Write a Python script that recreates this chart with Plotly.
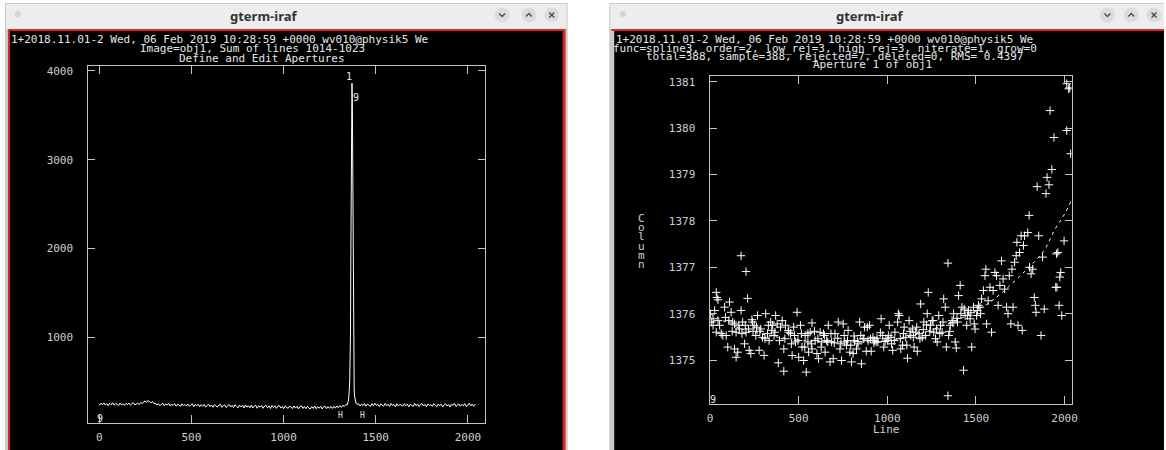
import numpy as np
import plotly.graph_objects as go

W, H = 1166, 450

# ---------------- Left window: summed spatial profile (apedit) ----------------
prof_pix_a = np.arange(1, 1338, 8)
prof_val_a = [
    232, 258, 241, 262, 236, 254, 229, 257, 240, 263,
    235, 255, 244, 230, 259, 238, 252, 233, 256, 241,
    260, 236, 251, 263, 239, 247, 258, 242, 265, 255,
    272, 284, 266, 289, 271, 262, 277, 252, 258, 236,
    251, 229, 246, 258, 228, 249, 237, 255, 226, 247,
    233, 252, 224, 245, 238, 221, 250, 231, 243, 226,
    248, 222, 239, 251, 219, 243, 228, 246, 217, 240,
    224, 245, 213, 236, 247, 218, 238, 211, 241, 226,
    215, 237, 244, 212, 233, 239, 208, 231, 242, 214,
    234, 209, 240, 221, 205, 236, 216, 232, 203, 238,
    212, 229, 206, 237, 204, 226, 234, 201, 229, 213,
    232, 200, 225, 234, 205, 228, 198, 233, 210, 227,
    199, 224, 231, 203, 222, 196, 229, 207, 201, 226,
    205, 197, 227, 202, 223, 194, 219, 228, 198, 221,
    196, 224, 203, 192, 220, 199, 226, 195, 218, 201,
    223, 193, 215, 225, 196, 219, 200, 222, 198, 224,
    202, 227, 206, 230, 211, 233, 222, 241,
]
peak_pix = np.arange(1345, 1400, 2)
peak_val = [
    238, 248, 262, 280, 310, 350, 420, 520, 700, 1050,
    1930, 2900, 3600, 3860, 3700, 2950, 1400, 850, 560, 420,
    340, 300, 280, 262, 255, 250, 246, 243,
]
prof_pix_b = np.arange(1407, 2040, 8)
prof_val_b = [
    252, 226, 247, 231, 255, 224, 249, 236, 221, 253,
    229, 258, 233, 246, 219, 250, 241, 225, 256, 228,
    247, 222, 254, 233, 243, 218, 251, 227, 245, 230,
    224, 252, 231, 248, 217, 246, 238, 222, 255, 229,
    249, 220, 243, 253, 226, 245, 216, 250, 232, 241,
    222, 254, 235, 219, 249, 228, 246, 215, 240, 252,
    226, 243, 214, 247, 233, 255, 221, 239, 250, 224,
    245, 229, 252, 218, 241, 256, 227, 248, 223, 247,
]
left_xticks = [0, 500, 1000, 1500, 2000]
left_yticks = [1000, 2000, 3000, 4000]

# ---------------- Right window: aperture trace fit ----------------
trace_line = [
    35, 39, 45, 26, 7, 17, 45, 35, 63, 82,
    91, 110, 119, 100, 138, 147, 156, 128, 147, 165,
    175, 184, 195, 212, 203, 221, 230, 240, 249, 258,
    268, 277, 286, 305, 314, 324, 333, 342, 353, 361,
    370, 379, 385, 392, 407, 416, 416, 426, 444, 454,
    463, 472, 482, 491, 500, 510, 519, 528, 537, 543,
    552, 556, 565, 575, 575, 593, 603, 612, 621, 630,
    640, 649, 658, 667, 677, 686, 695, 705, 723, 733,
    742, 751, 760, 770, 779, 789, 798, 807, 816, 826,
    835, 844, 854, 863, 872, 881, 891, 900, 909, 919,
    928, 937, 947, 965, 974, 980, 993, 1002, 1011, 1021,
    1030, 1039, 1058, 1062, 1067, 1076, 1086, 1095, 1104, 1114,
    1123, 1132, 1141, 1151, 1160, 1169, 1179, 1188, 1197, 1206,
    1216, 1225, 1231, 1244, 1253, 1262, 1272, 1281, 1290, 1300,
    1309, 1318, 1327, 1333, 1342, 1346, 1355, 1365, 1374, 1383,
    1389, 1396, 1402, 1411, 1421, 1430, 1439, 1448, 1458, 1467,
    1476, 1486, 1495, 1504, 1514, 1523, 1532, 1542, 1551, 1556,
    1560, 1569, 1579, 1588, 1597, 1607, 1616, 1625, 1635, 1644,
    1653, 1662, 1672, 1681, 1688, 1697, 1703, 1709, 1718, 1727,
    1731, 1737, 1746, 1755, 1761, 1768, 1774, 1792, 1802, 1811,
    1820, 1829, 1835, 1839, 1854, 1867, 1876, 1885, 1950, 1954,
    1969, 1973, 1978, 1984, 1997, 1342, 175, 203, 2012, 2023,
    2029, 1918, 1940, 2012, 2034, 1928, 1901, 1912, 1845, 1895,
    1800, 1962, 1957,
    2, 17, 54, 72, 87, 106, 125, 138, 162, 180,
    199, 217, 236, 243, 262, 281, 296, 310, 329, 348,
    366, 398, 422, 441, 459, 477, 496, 515, 534, 552,
    571, 589, 608, 627, 645, 664, 682, 701, 720, 738,
    757, 775, 794, 812, 831, 850, 868, 887, 905, 924,
    942, 961, 987, 1006, 1024, 1043, 1073, 1091, 1110, 1128,
    1147, 1166, 1184, 1203, 1221, 1240, 1258, 1277, 1296, 1314,
    1352, 1370, 1393, 1415, 1434, 1452, 1471, 1490, 1508, 1526,
]
trace_col = [
    1376.46, 1376.35, 1376.30, 1376.07, 1375.82, 1375.75, 1375.85, 1375.60, 1375.57, 1376.14,
    1375.53, 1376.25, 1376.03, 1375.28, 1375.24, 1375.06, 1375.17, 1375.82, 1375.60, 1375.67,
    1376.07, 1375.82, 1375.35, 1376.33, 1375.60, 1375.21, 1375.14, 1375.82, 1375.75, 1375.53,
    1375.96, 1375.21, 1375.67, 1375.10, 1376.00, 1375.57, 1375.42, 1375.82, 1375.75, 1375.53,
    1375.96, 1375.78, 1374.94, 1375.42, 1375.85, 1375.24, 1374.76, 1375.75, 1375.60, 1375.57,
    1375.10, 1375.71, 1375.39, 1376.03, 1375.06, 1375.75, 1375.28, 1374.99, 1375.53, 1374.74,
    1375.39, 1375.17, 1375.60, 1375.80, 1375.24, 1375.42, 1375.14, 1375.03, 1375.60, 1375.39,
    1375.57, 1375.17, 1375.42, 1375.75, 1374.96, 1375.39, 1375.03, 1375.57, 1375.82, 1375.24,
    1374.99, 1375.78, 1375.39, 1375.32, 1375.64, 1375.17, 1374.96, 1375.14, 1375.42, 1375.24,
    1375.35, 1375.82, 1374.92, 1375.46, 1375.71, 1375.19, 1375.42, 1375.75, 1375.19, 1375.49,
    1375.42, 1375.39, 1375.39, 1375.89, 1375.53, 1375.28, 1375.46, 1375.42, 1375.75, 1375.49,
    1375.21, 1375.42, 1375.82, 1376.00, 1375.96, 1375.24, 1375.32, 1375.71, 1375.49, 1375.04,
    1375.85, 1375.53, 1375.67, 1375.28, 1375.60, 1375.19, 1375.57, 1376.21, 1375.49, 1375.82,
    1375.53, 1376.00, 1376.46, 1375.75, 1375.85, 1375.60, 1375.46, 1375.39, 1375.96, 1375.75,
    1375.60, 1376.32, 1376.14, 1375.28, 1377.09, 1375.53, 1375.75, 1375.85, 1376.00, 1375.39,
    1375.26, 1375.82, 1376.39, 1376.61, 1376.14, 1374.78, 1375.96, 1375.75, 1376.07, 1375.89,
    1375.28, 1376.14, 1375.67, 1375.96, 1376.18, 1376.14, 1376.32, 1376.50, 1376.82, 1376.96,
    1375.78, 1376.28, 1376.57, 1375.60, 1376.50, 1376.89, 1376.82, 1376.18, 1376.61, 1377.14,
    1376.75, 1376.53, 1376.14, 1376.00, 1376.82, 1375.78, 1376.96, 1376.14, 1377.11, 1377.25,
    1377.54, 1375.75, 1377.32, 1377.68, 1375.64, 1377.47, 1377.68, 1377.75, 1377.00, 1376.86,
    1376.96, 1376.35, 1376.18, 1376.03, 1377.68, 1375.53, 1377.22, 1376.10, 1376.57, 1377.29,
    1376.18, 1376.79, 1376.89, 1375.96, 1377.57, 1374.23, 1377.25, 1376.91, 1380.96, 1380.85,
    1380.87, 1380.38, 1379.80, 1379.95, 1379.45, 1379.11, 1378.94, 1378.78, 1378.74, 1378.59,
    1378.12, 1377.32, 1376.57,
    1376.00, 1375.89, 1375.75, 1375.53, 1375.92, 1375.85, 1375.62, 1375.78, 1375.75, 1375.57,
    1375.75, 1375.67, 1375.87, 1375.62, 1375.71, 1375.62, 1375.49, 1375.46, 1375.75, 1375.64,
    1375.60, 1375.71, 1375.46, 1375.64, 1375.35, 1375.53, 1375.42, 1375.57, 1375.28, 1375.57,
    1375.35, 1375.62, 1375.46, 1375.28, 1375.53, 1375.39, 1375.57, 1375.37, 1375.47, 1375.35,
    1375.53, 1375.42, 1375.32, 1375.52, 1375.40, 1375.53, 1375.46, 1375.71, 1375.46, 1375.37,
    1375.47, 1375.59, 1375.40, 1375.53, 1375.35, 1375.60, 1375.46, 1375.57, 1375.32, 1375.62,
    1375.49, 1375.71, 1375.46, 1375.66, 1375.76, 1375.62, 1375.85, 1375.67, 1375.57, 1375.82,
    1375.62, 1375.80, 1375.90, 1376.00, 1376.10, 1375.96, 1376.02, 1375.78, 1376.07, 1376.00,
]
fit_line = [1, 150, 330, 520, 740, 1000, 1170, 1320, 1450, 1560, 1640, 1750, 1820, 1880, 1950, 2000, 2040]
fit_col = [1376.00, 1375.71, 1375.53, 1375.43, 1375.39, 1375.42, 1375.56, 1375.75, 1375.96,
           1376.20, 1376.43, 1376.82, 1377.08, 1377.34, 1377.85, 1378.15, 1378.46]
right_xticks = [0, 500, 1000, 1500, 2000]
right_yticks = [1375, 1376, 1377, 1378, 1379, 1380, 1381]

header_time = "1+2018.11.01-2 Wed, 06 Feb 2019 10:28:59 +0000 wv010@physik5 We"
left_lines = ["Image=obj1, Sum of lines 1014-1023", "Define and Edit Apertures"]
right_lines = ["func=spline3, order=2, low_rej=3, high_rej=3, niterate=1, grow=0",
               "total=388, sample=388, rejected=7, deleted=0, RMS= 0.4397",
               "Aperture 1 of obj1"]
column_letters = ["C", "o", "l", "u", "m", "n"]

# ---------------- helpers ----------------
def px(x):
    return x / W

def py(y):
    return 1 - y / H

MONO = "DejaVu Sans Mono"
FG = "#e6e6e6"
AX = "#c4c4c4"
LBL = "#cfcfcf"

fig = go.Figure()

fig.add_trace(go.Scatter(
    x=list(prof_pix_a) + list(peak_pix) + list(prof_pix_b),
    y=prof_val_a + peak_val + prof_val_b,
    mode="lines", line=dict(color="white", width=1),
    xaxis="x", yaxis="y", hoverinfo="skip", showlegend=False))

fig.add_trace(go.Scatter(
    x=trace_line, y=trace_col, mode="markers",
    marker=dict(symbol="cross-thin", size=6, line=dict(color="white", width=1), color="white"),
    xaxis="x2", yaxis="y2", hoverinfo="skip", showlegend=False))

fig.add_trace(go.Scatter(
    x=fit_line, y=fit_col, mode="lines", line_shape="spline",
    line=dict(color="white", width=1, dash="3px,4px"),
    xaxis="x2", yaxis="y2", hoverinfo="skip", showlegend=False))

axis_common = dict(showgrid=False, zeroline=False, showline=True, linecolor=AX, linewidth=1,
                   mirror="allticks", ticks="inside", tickcolor=AX, tickwidth=1,
                   tickfont=dict(family=MONO, size=11, color=LBL))

fig.update_layout(
    width=W, height=H, margin=dict(l=0, r=0, t=0, b=0),
    paper_bgcolor="white", plot_bgcolor="black",
    xaxis=dict(domain=[px(86), px(486)], range=[-59, 2094], tickvals=left_xticks,
               ticklen=8, anchor="y", ticklabelstandoff=4, **axis_common),
    yaxis=dict(domain=[py(423), py(65)], range=[34, 4056], tickvals=left_yticks,
               ticklen=7, anchor="x", ticklabelstandoff=12, **axis_common),
    xaxis2=dict(domain=[px(712), px(1077)], range=[-3, 2040], tickvals=right_xticks,
                ticklen=8, anchor="y2", ticklabelstandoff=4, **axis_common),
    yaxis2=dict(domain=[py(404), py(75)], range=[1374.05, 1381.13], tickvals=right_yticks,
                ticklen=7, anchor="x2", ticklabelstandoff=11, **axis_common),
)

shapes = []

def rect(x0, y0, x1, y1, fill, layer="below"):
    shapes.append(dict(type="rect", xref="paper", yref="paper",
                       x0=px(x0), x1=px(x1), y0=py(y1), y1=py(y0),
                       fillcolor=fill, line=dict(width=0), layer=layer))

def circle(cx, cy, r, fill):
    shapes.append(dict(type="circle", xref="paper", yref="paper",
                       x0=px(cx - r), x1=px(cx + r), y0=py(cy + r), y1=py(cy - r),
                       fillcolor=fill, line=dict(width=0), layer="below"))

def path(points, color="#4a4a4a", width=1.3):
    d = "M " + " L ".join(f"{px(x):.5f},{py(y):.5f}" for x, y in points)
    shapes.append(dict(type="path", xref="paper", yref="paper", path=d,
                       line=dict(color=color, width=width), layer="above"))

# left window
rect(2, 2, 569, 452, "#c9c9c9")
rect(3, 3, 568, 28, "#ededed")
rect(5, 28, 567, 452, "#d52a2a")
rect(7, 30, 564, 452, "black")
# right window
rect(611, 2, 1170, 452, "#c9c9c9")
rect(612, 3, 1170, 28, "#ededed")
rect(613, 28, 1170, 30, "#d52a2a")
rect(616, 30, 1170, 452, "black")

for cx in (15, 625):
    circle(cx, 13, 3, "#d4d4d4")

for bx in ((503, 530, 553), (1113, 1137, 1160)):
    for i, cx in enumerate(bx):
        circle(cx, 14, 7.5, "#dcdcdc")
        cy = 14
        if i == 0:
            path([(cx - 3, cy - 1.5), (cx, cy + 1.5), (cx + 3, cy - 1.5)])
        elif i == 1:
            path([(cx - 3, cy + 1.5), (cx, cy - 1.5), (cx + 3, cy + 1.5)])
        else:
            path([(cx - 2.5, cy - 2.5), (cx + 2.5, cy + 2.5)])
            path([(cx - 2.5, cy + 2.5), (cx + 2.5, cy - 2.5)])

fig.update_layout(shapes=shapes)

ann = []

def text(x, y, s, size=11, color=FG, xanchor="left", family=MONO):
    ann.append(dict(xref="paper", yref="paper", x=px(x), y=py(y), text=s, showarrow=False,
                    xanchor=xanchor, yanchor="middle", borderpad=0,
                    font=dict(family=family, size=size, color=color)))

# window titles
text(263, 15, "<b>gterm-iraf</b>", size=13, color="#2e3436", xanchor="center", family="Noto Sans")
text(873, 15, "<b>gterm-iraf</b>", size=13, color="#2e3436", xanchor="center", family="Noto Sans")

# IRAF headers
text(7, 39, header_time)
text(137, 48, left_lines[0])
text(176, 58, left_lines[1])
text(617, 39, header_time)
text(614, 48, right_lines[0])
text(647, 56, right_lines[1])
text(815, 64, right_lines[2])

# axis labels of right plot
text(890, 429, "Line", size=11, color=LBL, xanchor="center")
for i, ch in enumerate(column_letters):
    text(643, 218 + i * 9.2, ch, size=11, color=LBL, xanchor="center")

fig.update_layout(annotations=ann)

# data-space labels (aperture id, limits, cursor marks)
fig.add_annotation(x=1355, y=3940, xref="x", yref="y", text="1", showarrow=False,
                   font=dict(family=MONO, size=10, color=FG))
fig.add_annotation(x=1395, y=3700, xref="x", yref="y", text="9", showarrow=False,
                   font=dict(family=MONO, size=10, color=FG))
fig.add_annotation(x=1310, y=115, xref="x", yref="y", text="H", showarrow=False,
                   font=dict(family=MONO, size=8, color=FG))
fig.add_annotation(x=1430, y=115, xref="x", yref="y", text="H", showarrow=False,
                   font=dict(family=MONO, size=8, color=FG))
fig.add_annotation(x=5, y=80, xref="x", yref="y", text="9", showarrow=False,
                   font=dict(family=MONO, size=10, color=FG))
fig.add_annotation(x=18, y=1374.14, xref="x2", yref="y2", text="9", showarrow=False,
                   font=dict(family=MONO, size=10, color=FG))

fig.write_html("out.html", config={"displayModeBar": False},
               post_script="document.body.style.margin='0';document.body.style.overflow='hidden';")
